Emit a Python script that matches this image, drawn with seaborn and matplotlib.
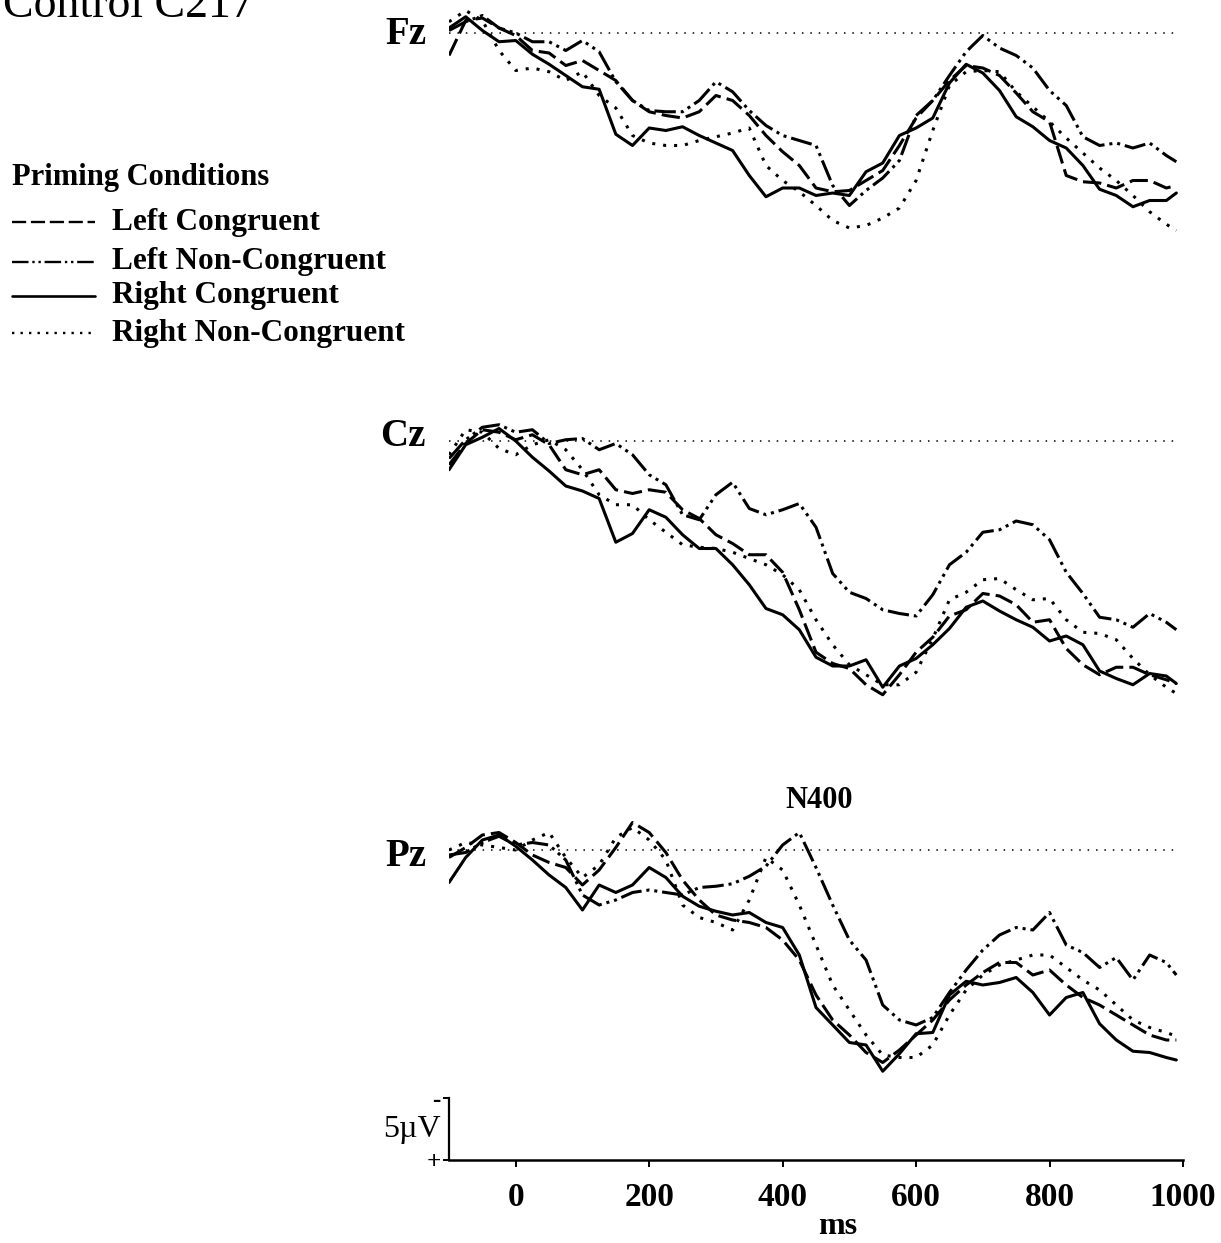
import matplotlib
matplotlib.use("Agg")
import matplotlib.pyplot as plt
from matplotlib.lines import Line2D
import pandas as pd
import seaborn as sns

# ---------------------------------------------------------------- data (µV, negative plotted up)
TIMES = [-100, -75, -50, -25, 0, 25, 50, 75, 100, 125, 150, 175, 200, 225, 250,
         275, 300, 325, 350, 375, 400, 425, 450, 475, 500, 525, 550, 575, 600,
         625, 650, 675, 700, 725, 750, 775, 800, 825, 850, 875, 900, 925, 950,
         975, 990]

CONDITIONS = ["Left Congruent", "Left Non-Congruent", "Right Congruent", "Right Non-Congruent"]
SITES = ["Fz", "Cz", "Pz"]

FZ_LC = [1.8, -1.0, -1.2, -0.4, 0.2, 1.4, 1.6, 2.6, 2.2, 3.0, 3.8, 5.4, 6.3, 6.6, 6.8,
         6.3, 5.0, 5.4, 6.6, 8.2, 9.5, 10.6, 12.4, 12.7, 12.6, 11.8, 11.0, 9.0, 6.8,
         5.4, 3.8, 2.6, 2.8, 3.4, 4.8, 6.3, 7.1, 11.4, 11.9, 12.0, 12.4, 11.8, 11.8,
         12.4, 12.2]
FZ_LNC = [-0.2, -0.9, -1.4, -0.4, 0.0, 0.7, 0.7, 1.4, 0.6, 1.5, 3.9, 5.4, 6.2, 6.3, 6.3,
          5.4, 3.9, 4.7, 6.2, 7.4, 8.2, 8.6, 9.0, 12.2, 13.8, 12.6, 11.6, 10.2, 6.6,
          5.4, 3.4, 1.5, 0.2, 1.2, 1.8, 2.8, 4.6, 5.8, 8.3, 9.0, 8.8, 9.2, 8.8,
          9.8, 10.3]
FZ_RC = [-0.4, -1.3, -0.2, 0.7, 0.6, 1.7, 2.5, 3.4, 4.3, 4.5, 8.1, 9.0, 7.6, 7.8, 7.5,
         8.2, 8.8, 9.4, 11.4, 13.1, 12.4, 12.4, 13.0, 12.8, 13.0, 11.1, 10.4, 8.2, 7.6,
         6.8, 4.0, 2.5, 3.2, 4.6, 6.7, 7.5, 8.6, 9.2, 10.6, 12.5, 13.0, 13.9, 13.4,
         13.4, 12.8]
FZ_RNC = [-0.9, -1.8, -1.0, 1.4, 3.0, 2.8, 3.1, 3.8, 3.1, 5.0, 6.0, 8.2, 8.8, 9.0, 9.0,
          8.6, 8.3, 8.0, 7.6, 10.6, 11.8, 12.7, 13.8, 15.0, 15.6, 15.4, 14.8, 14.0, 11.8,
          7.8, 4.2, 3.1, 3.0, 3.1, 4.7, 5.9, 7.1, 8.4, 9.6, 10.8, 11.8, 13.0, 14.3,
          15.3, 15.8]

CZ_LC = [1.9, 0.2, -0.9, -0.7, -0.1, -0.5, 0.3, 2.3, 2.7, 2.3, 3.9, 4.2, 3.9, 4.1, 5.5,
         6.2, 7.5, 8.2, 9.1, 9.1, 10.5, 13.5, 16.9, 17.8, 18.2, 19.5, 20.3, 18.7, 16.9,
         15.7, 14.0, 13.5, 12.2, 12.4, 13.1, 14.5, 14.3, 16.6, 17.9, 18.7, 18.1, 18.1, 18.7,
         19.1, 19.4]
CZ_LNC = [1.4, -0.1, -1.1, -1.3, -0.7, -0.9, 0.2, -0.1, -0.2, 0.7, 0.2, 1.1, 2.7, 3.5, 5.9,
          6.3, 4.3, 3.3, 5.4, 5.9, 5.5, 5.0, 6.9, 10.6, 12.1, 12.6, 13.5, 13.8, 14.0,
          12.3, 9.9, 8.9, 7.3, 7.1, 6.4, 6.7, 7.9, 10.5, 12.2, 14.1, 14.3, 14.9, 13.8,
          14.5, 15.1]
CZ_RC = [2.3, 0.3, -0.3, -1.0, 0.0, 1.3, 2.4, 3.6, 4.0, 4.6, 8.1, 7.4, 5.5, 6.1, 7.5,
         8.6, 8.6, 9.9, 11.5, 13.4, 13.9, 15.1, 17.3, 18.0, 18.0, 17.5, 19.7, 18.0, 17.4,
         16.3, 15.0, 13.3, 12.8, 13.6, 14.3, 14.9, 16.0, 15.6, 16.3, 18.4, 19.0, 19.5, 18.6,
         18.8, 19.4]
CZ_RNC = [1.1, -0.9, -0.7, 0.6, 1.1, 0.3, -0.1, 0.7, 2.3, 4.3, 5.1, 5.1, 6.3, 7.3, 8.3,
          8.5, 8.6, 8.9, 9.4, 9.9, 10.7, 11.9, 14.3, 16.3, 17.9, 18.7, 19.5, 19.5, 18.5,
          15.8, 12.7, 12.1, 11.1, 11.0, 11.9, 12.7, 12.6, 14.3, 15.3, 15.4, 15.9, 17.4, 18.7,
          19.7, 20.2]

PZ_LC = [0.6, -0.2, -1.2, -1.4, -0.6, 0.4, 1.0, 1.4, 2.8, 1.6, -0.2, -2.2, -1.4, 0.2, 2.4,
         4.0, 5.2, 5.6, 5.8, 6.2, 7.2, 8.8, 11.6, 13.6, 14.8, 16.2, 17.0, 16.0, 14.8,
         13.6, 12.0, 10.8, 9.8, 9.0, 9.0, 10.0, 9.6, 10.8, 11.8, 12.4, 13.2, 14.0, 14.8,
         15.2, 15.2]
PZ_LNC = [0.4, 0.2, -0.6, -1.1, -0.4, -0.6, -0.4, 0.8, 3.6, 4.4, 4.0, 3.4, 3.2, 3.4, 3.6,
          3.0, 2.9, 2.7, 2.1, 1.3, -0.4, -1.4, 1.4, 4.4, 7.2, 8.8, 12.4, 13.6, 14.0,
          13.4, 11.4, 9.6, 8.0, 6.8, 6.2, 6.4, 5.0, 7.6, 8.2, 9.4, 8.6, 10.4, 8.4,
          9.0, 10.0]
PZ_RC = [2.6, 0.6, -0.8, -1.2, -0.3, 0.8, 2.0, 3.0, 4.8, 2.8, 3.4, 2.8, 1.4, 2.2, 3.7,
         4.5, 4.9, 5.2, 5.0, 5.8, 6.2, 8.4, 12.6, 14.0, 15.4, 15.6, 17.7, 16.3, 14.7,
         14.6, 11.6, 10.5, 10.8, 10.6, 10.2, 11.4, 13.2, 11.8, 11.4, 13.9, 15.2, 16.1, 16.2,
         16.6, 16.8]
PZ_RNC = [0.0, -0.6, -0.4, -0.2, 0.0, -0.8, -1.4, 0.6, 2.2, 1.2, -1.0, -1.8, -0.8, 0.8, 4.4,
          5.4, 5.8, 6.4, 4.0, 0.6, 1.6, 4.4, 7.6, 10.8, 12.8, 14.8, 16.4, 16.6, 16.6,
          15.6, 13.2, 11.2, 10.0, 9.2, 8.8, 8.4, 8.4, 9.4, 10.4, 11.2, 12.4, 13.6, 14.2,
          14.6, 14.9]

WAVES = {
    "Fz": [FZ_LC, FZ_LNC, FZ_RC, FZ_RNC],
    "Cz": [CZ_LC, CZ_LNC, CZ_RC, CZ_RNC],
    "Pz": [PZ_LC, PZ_LNC, PZ_RC, PZ_RNC],
}

XTICKS = [0, 200, 400, 600, 800, 1000]
SCALE_UV = 5

rows = []
for site in SITES:
    for cond, wave in zip(CONDITIONS, WAVES[site]):
        for t, v in zip(TIMES, wave):
            rows.append({"site": site, "condition": cond, "time": t, "uv": v})
df = pd.DataFrame(rows)

# ---------------------------------------------------------------- style
sns.set_theme(style="white")
plt.rcParams["font.family"] = ["Liberation Serif", "DejaVu Serif"]
plt.rcParams["text.color"] = "black"
plt.rcParams["axes.labelcolor"] = "black"
plt.rcParams["xtick.color"] = "black"
plt.rcParams["ytick.color"] = "black"
plt.rcParams["axes.edgecolor"] = "black"

DASHES = {
    "Left Congruent": (6, 2),
    "Left Non-Congruent": (7, 1.6, 1, 1.6, 1, 1.6),
    "Right Congruent": "",
    "Right Non-Congruent": (1, 2.6),
}

W, H = 1221, 1243
LEFT_PX, RIGHT_PX = 449, 1183
PX_PER_UV = 12.5
# panel: (top row, bottom row, baseline row) in pixels
PANELS = {"Fz": (0, 300, 33), "Cz": (380, 720, 441), "Pz": (780, 1160, 850)}
LABEL_ROW = {"Fz": 35, "Cz": 436, "Pz": 857}

fig = plt.figure(figsize=(W / 100, H / 100), dpi=100)
fig.patch.set_facecolor("white")


def fx(px):
    return px / W


def fy(py):
    return 1 - py / H


axes = {}
for site in SITES:
    top, bot, base = PANELS[site]
    ax = fig.add_axes([fx(LEFT_PX), fy(bot), (RIGHT_PX - LEFT_PX) / W, (bot - top) / H])
    ax.set_facecolor("none")
    sub = df[df["site"] == site]
    sns.lineplot(data=sub, x="time", y="uv", style="condition", style_order=CONDITIONS,
                 dashes=DASHES, color="black", linewidth=2.2, estimator=None,
                 legend=False, ax=ax)
    ax.hlines(0, TIMES[0], TIMES[-1], colors="black", linewidth=1.1,
              linestyles=(0, (1, 4.5)))
    ax.set_xlim(-100, 1000)
    ax.set_ylim((bot - base) / PX_PER_UV, (top - base) / PX_PER_UV)
    ax.set_xlabel("")
    ax.set_ylabel("")
    axes[site] = ax
    fig.text(fx(426), fy(LABEL_ROW[site]), site, ha="right", va="center",
             fontsize=28, fontweight="bold", color="black")

for site in ["Fz", "Cz"]:
    axes[site].axis("off")

# time axis and amplitude scale bar on the bottom panel
ax = axes["Pz"]
y_bottom = ax.get_ylim()[0]
for side in ["top", "right"]:
    ax.spines[side].set_visible(False)
ax.spines["bottom"].set_color("black")
ax.spines["bottom"].set_linewidth(1.8)
ax.spines["left"].set_color("black")
ax.spines["left"].set_linewidth(1.6)
ax.spines["left"].set_bounds(y_bottom - SCALE_UV, y_bottom)
ax.set_xticks(XTICKS)
ax.set_xticklabels([str(t) for t in XTICKS], fontsize=24, fontweight="bold", color="black")
ax.set_yticks([y_bottom - SCALE_UV, y_bottom])
ax.set_yticklabels(["-", "+"], fontsize=18, fontweight="bold", color="black")
ax.tick_params(axis="x", direction="out", length=5, width=1.4, pad=11, colors="black",
               bottom=True)
ax.tick_params(axis="y", direction="out", length=4, width=1.4, pad=2, colors="black",
               left=True)
ax.grid(False)

fig.text(fx(838), fy(1227), "ms", ha="center", va="center", fontsize=23,
         fontweight="bold", color="black")
fig.text(fx(441), fy(1129), "5\u00b5V", ha="right", va="center", fontsize=23, color="black")
fig.text(fx(819), fy(800), "N400", ha="center", va="center", fontsize=22,
         fontweight="bold", color="black")

# title
fig.text(fx(3), fy(17), "Control C217", ha="left", va="baseline", fontsize=33, color="black")

# legend
fig.text(fx(12), fy(177), "Priming Conditions", ha="left", va="center", fontsize=22,
         fontweight="bold", color="black")
LEGEND_ROWS = [222, 262, 296, 333]
for cond, row in zip(CONDITIONS, LEGEND_ROWS):
    dash = DASHES[cond]
    line = Line2D([fx(12), fx(95)], [fy(row), fy(row)], transform=fig.transFigure,
                  color="black", linewidth=1.7 if dash else 1.9)
    if dash:
        line.set_dashes(dash)
    fig.add_artist(line)
    fig.text(fx(112), fy(row), cond, ha="left", va="center", fontsize=22.5,
             fontweight="bold", color="black")

fig.savefig("out.png", dpi=100, facecolor="white")
